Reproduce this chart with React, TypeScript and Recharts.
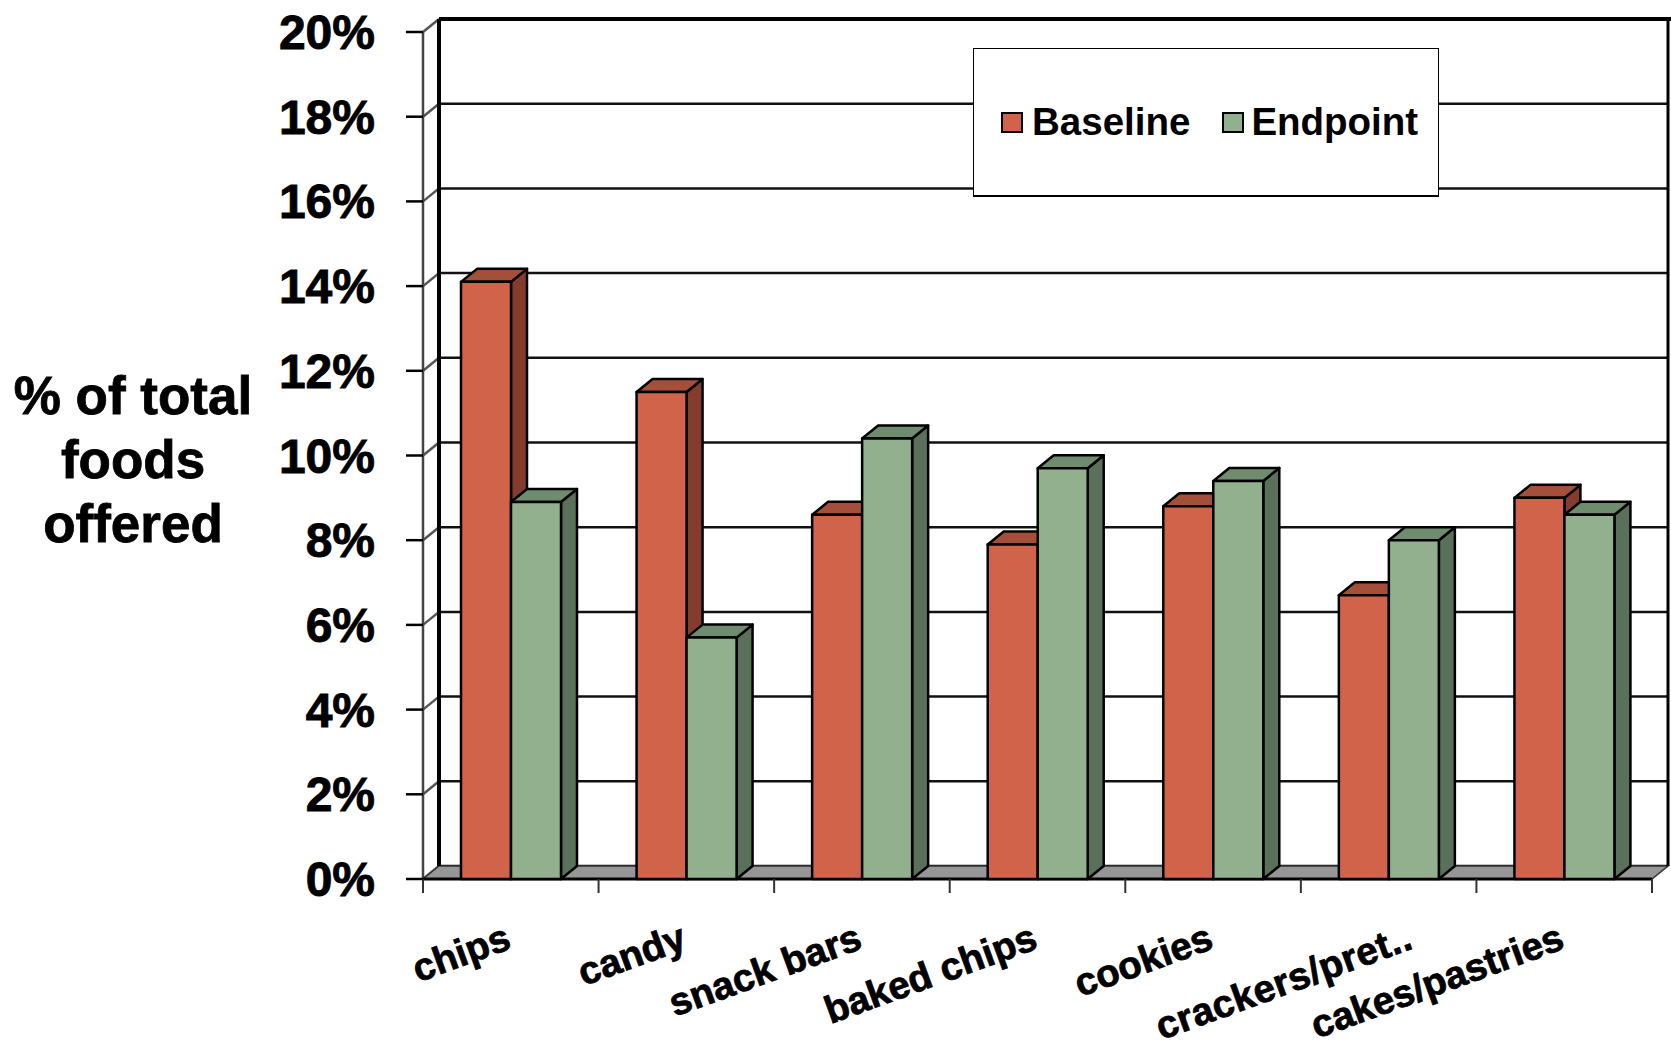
import React from "react";
import {
  BarChart,
  Bar,
  XAxis,
  YAxis,
  CartesianGrid,
  Legend,
  ReferenceArea,
} from "recharts";

const categories = [
  "chips",
  "candy",
  "snack bars",
  "baked chips",
  "cookies",
  "crackers/pret..",
  "cakes/pastries",
];
const baseline = [14.1, 11.5, 8.6, 7.9, 8.8, 6.7, 9.0];
const endpoint = [8.9, 5.7, 10.4, 9.7, 9.4, 8.0, 8.6];
const yTicks = [0, 2, 4, 6, 8, 10, 12, 14, 16, 18, 20];
const axisTitle = ["% of total", "foods", "offered"];

const rows = categories.map((name, i) => ({
  name,
  Baseline: baseline[i],
  Endpoint: endpoint[i],
}));

const FONT = "'Liberation Sans', Arial, sans-serif";
// Receding offset of the pseudo-3D depth
const DX = 16;
const DY = 13;

const RED = { front: "#D1634A", side: "#843C2E", top: "#A44F3A" };
const GREEN = { front: "#92B08E", side: "#5A705A", top: "#6F8C6E" };

function makeBar(c: { front: string; side: string; top: string }) {
  return function Bar3D(p: any) {
    const { x, y, width: w, height: h } = p;
    return (
      <g stroke="#000" strokeWidth={2.5} strokeLinejoin="round">
        <polygon
          points={`${x + w},${y} ${x + w + DX},${y - DY} ${x + w + DX},${y + h - DY} ${x + w},${y + h}`}
          fill={c.side}
        />
        <polygon
          points={`${x},${y} ${x + DX},${y - DY} ${x + w + DX},${y - DY} ${x + w},${y}`}
          fill={c.top}
        />
        <rect x={x} y={y} width={w} height={h} fill={c.front} />
      </g>
    );
  };
}

// One gridline: the slanted run across the side wall, then the back wall
function gridLine(p: any) {
  const { x1, x2, y1, index } = p;
  return (
    <g key={`grid-${index}`}>
      <line x1={x1} y1={y1} x2={x1 + DX} y2={y1 - DY} stroke="#555" strokeWidth={2.5} />
      <line x1={x1 + DX} y1={y1 - DY} x2={x2 + DX} y2={y1 - DY} stroke="#111" strokeWidth={2.5} />
    </g>
  );
}

// Floor, walls and the category boundary ticks around the plot
function Frame(p: any) {
  const { x, y, width: w, height: h } = p;
  const step = w / categories.length;
  const bottom = y + h;
  const boundaries = Array.from({ length: categories.length + 1 }, (_, i) => x + i * step);
  return (
    <g>
      <polygon
        points={`${x},${bottom} ${x + DX},${bottom - DY} ${x + w + DX},${bottom - DY} ${x + w},${bottom}`}
        fill="#969696"
        stroke="#333"
        strokeWidth={1.5}
      />
      <line x1={x} y1={y} x2={x} y2={bottom} stroke="#444" strokeWidth={2.5} />
      <line x1={x + DX} y1={y - DY} x2={x + DX} y2={bottom - DY} stroke="#000" strokeWidth={4} />
      <line x1={x + w + DX} y1={y - DY} x2={x + w + DX} y2={bottom - DY} stroke="#000" strokeWidth={3} />
      <line x1={x + DX} y1={y - DY} x2={x + w + 30} y2={y - DY} stroke="#000" strokeWidth={4} />
      <line x1={x} y1={bottom} x2={x + w} y2={bottom} stroke="#000" strokeWidth={3} />
      {boundaries.map((bx) => (
        <line key={bx} x1={bx} y1={bottom} x2={bx} y2={bottom + 14} stroke="#333" strokeWidth={2} />
      ))}
    </g>
  );
}

function CategoryTick(p: any) {
  const { x, y, payload } = p;
  const label: string = payload.value;
  // A shortened name sits further right, with its dots spread apart
  const shortened = label.endsWith("..");
  const ax = x + (shortened ? 26 : 2);
  const ay = y + 61;
  return (
    <text
      x={ax}
      y={ay}
      textAnchor="end"
      transform={`rotate(-20 ${ax} ${ay})`}
      fontFamily={FONT}
      fontWeight="bold"
      fontSize={38.5}
      fill="#000"
      stroke="#000"
      strokeWidth={0.8}
      letterSpacing={shortened ? 0.4 : 0}
    >
      {label}
    </text>
  );
}

function AxisTitle() {
  return (
    <text
      fontFamily={FONT}
      fontWeight="bold"
      fontSize={53}
      fill="#000"
      stroke="#000"
      strokeWidth={0.8}
      textAnchor="middle"
    >
      {axisTitle.map((line, i) => (
        <tspan key={line} x={133} y={414 + i * 64}>
          {line}
        </tspan>
      ))}
    </text>
  );
}

function LegendBox() {
  const swatch = (color: string) => (
    <span
      style={{
        display: "inline-block",
        width: 22,
        height: 21,
        boxSizing: "border-box",
        background: color,
        border: "2.5px solid #000",
        marginRight: 9,
      }}
    />
  );
  return (
    <div
      style={{
        boxSizing: "border-box",
        width: 466,
        height: 149,
        background: "#fff",
        border: "1.5px solid #000",
        borderBottomWidth: 2.5,
        display: "flex",
        alignItems: "center",
        paddingLeft: 27,
        fontFamily: FONT,
        fontWeight: "bold",
        fontSize: 38.5,
        color: "#000",
      }}
    >
      {swatch(RED.front)}
      <span style={{ marginRight: 32 }}>Baseline</span>
      {swatch(GREEN.front)}
      <span style={{ marginLeft: -2 }}>Endpoint</span>
    </div>
  );
}

export default function App() {
  return (
    <div style={{ position: "absolute", left: 0, top: 0, width: 1671, height: 1047, background: "#fff", overflow: "hidden" }}>
      <BarChart
        width={1671}
        height={1047}
        data={rows}
        margin={{ top: 32, right: 19, bottom: 0, left: 0 }}
        barGap={0}
        barCategoryGap="0%"
        barSize={50}
      >
        <ReferenceArea y1={0} y2={20} isFront={false} shape={Frame} ifOverflow="extendDomain" />
        <CartesianGrid vertical={false} horizontal={gridLine} />
        <XAxis dataKey="name" tick={CategoryTick} tickLine={false} axisLine={false} interval={0} height={168} />
        <YAxis
          width={423}
          domain={[0, 20]}
          ticks={yTicks}
          interval={0}
          tickFormatter={(v: number) => `${v}%`}
          tickSize={17}
          tickMargin={31}
          tickLine={{ stroke: "#000", strokeWidth: 2.5 }}
          axisLine={false}
          tick={{ fontFamily: FONT, fontWeight: "bold", fontSize: 48, fill: "#000", stroke: "#000", strokeWidth: 0.9 }}
          label={{ content: AxisTitle }}
        />
        <Bar dataKey="Baseline" isAnimationActive={false} shape={makeBar(RED)} />
        <Bar dataKey="Endpoint" isAnimationActive={false} shape={makeBar(GREEN)} />
        <Legend
          content={LegendBox}
          layout="horizontal"
          align="center"
          verticalAlign="middle"
          wrapperStyle={{ position: "absolute", left: 973, top: 48, width: 466, height: 149, bottom: "auto" }}
        />
      </BarChart>
    </div>
  );
}
